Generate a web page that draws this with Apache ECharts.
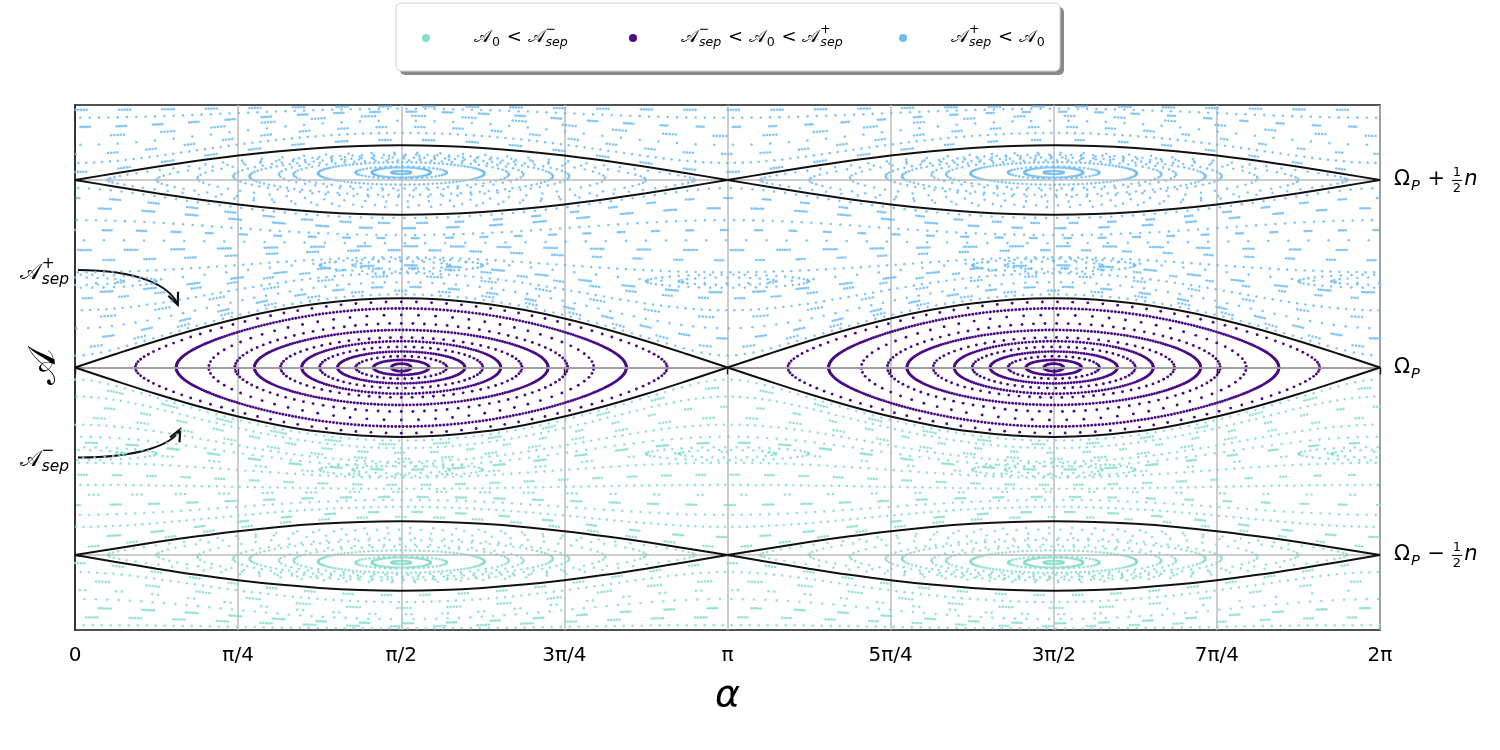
<!DOCTYPE html>
<html>

<head>
    <meta charset="UTF-8" />
    <title>Resonance phase space</title>
    <script src="https://cdn.jsdelivr.net/npm/echarts@6/dist/echarts.min.js"></script>
    <style>
        html, body { margin: 0; padding: 0; background: #fff; }
        #chart { width: 1500px; height: 750px; }
    </style>
</head>

<body>
    <div id="chart"></div>

    <script type="text/javascript">
        // x axis runs in units of pi/4 (0 .. 8 = 2pi), y in units of n/2 around Omega_P
        let alphaTickLabels = ['0', 'π/4', 'π/2', '3π/4', 'π', '5π/4', '3π/2', '7π/4', '2π'];
        let levelValues = [-1, 0, 1];
        let levelSigns = ['−', '', '+'];

        // separatrix shape over half a period (alpha = 0 .. pi) and its half widths
        let sepProfile = [0, 0.195, 0.383, 0.556, 0.707, 0.831, 0.924, 0.981, 1, 0.981, 0.924, 0.831, 0.707, 0.556, 0.383, 0.195, 0];
        let sepCentres = [-1, 0, 1];
        let sepAbove = [0.18, 0.37, 0.185];
        let sepBelow = [0.19, 0.37, 0.185];

        // main island (purple): ring half width (x), half height (y), number of dots
        let midRingW = [0.06, 0.17, 0.28, 0.39, 0.50, 0.61, 0.74, 0.90, 1.02, 1.18, 1.38, 1.63];
        let midRingH = [0.02, 0.04, 0.06, 0.085, 0.11, 0.14, 0.16, 0.20, 0.235, 0.28, 0.315, 0.35];
        let midRingN = [40, 80, 40, 130, 60, 170, 70, 260, 90, 70, 380, 110];

        // islands at Omega_P +- n/2 (blue above, green below, mirrored)
        let sideRingW = [0.06, 0.18, 0.28, 0.51, 0.66, 0.75, 0.93, 1.03, 1.25, 1.5, 1.8];
        let sideRingH = [0.008, 0.027, 0.032, 0.06, 0.075, 0.085, 0.10, 0.11, 0.125, 0.135, 0.145];
        let sideRingC = [0.04, 0.04, 0.04, 0.035, 0.03, 0.03, 0.02, 0.02, 0.01, 0, 0];
        let sideRingN = [30, 70, 50, 110, 60, 50, 90, 70, 60, 70, 80];

        // circulating orbits between the islands: value at alpha = 0, at alpha = pi/2,
        // number of dots and number of dashes (0 = evenly spread)
        let rowB = [0.064, 0.107, 0.155, 0.209, 0.267, 0.305, 0.369, 0.401, 0.449, 0.508, 0.572, 0.626, 0.679, 0.733, 0.786, 0.850, 0.904, 0.957];
        let rowM = [0.39, 0.41, 0.43, 0.455, 0.487, 0.503, 0.529, 0.545, 0.572, 0.588, 0.626, 0.647, 0.663, 0.690, 0.706, 0.743, 0.770, 0.797];
        let rowN = [150, 120, 170, 110, 110, 160, 130, 180, 60, 150, 140, 165, 65, 155, 135, 170, 145, 120];
        let rowQ = [0, 30, 34, 0, 24, 0, 36, 30, 0, 0, 32, 28, 0, 38, 0, 30, 34, 0];

        // circulating orbits outside the side islands
        let topB = [1.043, 1.091, 1.139, 1.187, 1.235, 1.283, 1.332, 1.374];
        let topM = [1.214, 1.251, 1.283, 1.316, 1.342, 1.364, 1.380, 1.392];
        let topN = [140, 165, 130, 70, 120, 160, 140, 150];
        let topQ = [30, 0, 34, 0, 26, 36, 0, 30];

        // small secondary island chain
        let chainX = [0, 2, 4, 6, 8];
        let chainY = [0.46, 0.545, 0.46, 0.545, 0.46];
        let chainW = [0.5, 0.3];
        let chainH = [0.035, 0.02];
        let chainN = [44, 26];

        const GREEN = '#85ddcb';
        const PURPLE = '#4b0a86';
        const BLUE = '#6cbcf7';
        const FONT = '"DejaVu Sans"';
        const Q = Math.PI / 4;

        // libration orbit of a pendulum, turning points at cx +- halfW
        function ringPoints(cx, cy, halfW, halfH, n, phase, out) {
            let d = halfW * Q;
            let c2 = Math.cos(d) * Math.cos(d);
            let s = Math.sin(d);
            for (let k = 0; k < n; k++) {
                let th = 2 * Math.PI * (k + phase) / n;
                let a = Math.PI / 2 + d * Math.cos(th);
                let v = Math.sqrt(Math.max(0, Math.sin(a) * Math.sin(a) - c2)) / s;
                out.push([cx + halfW * Math.cos(th), cy + (Math.sin(th) >= 0 ? halfH : -halfH) * v]);
            }
        }

        // circulating orbit bent around the nearest resonance, dots either even or in q dashes
        function rowPoints(b, m, n, q, phase, sign, out) {
            let ref = Math.round(b);
            let b0 = b - ref, m0 = m - ref;
            let dir = (b0 + m0) >= 0 ? 1 : -1;
            let per = q ? Math.ceil(n / q) : 1;
            for (let k = 0; k < n; k++) {
                let x = q
                    ? 8 * ((k % q) + phase + 0.32 * Math.floor(k / q) / per) / q
                    : 8 * (k + phase) / n;
                x = x % 8;
                let s = Math.sin(x * Q);
                let y = ref + dir * Math.sqrt(b0 * b0 + (m0 * m0 - b0 * b0) * s * s);
                out.push([x, sign * y]);
            }
        }

        let purpleData = [];
        let blueData = [];
        let greenData = [];

        midRingW.forEach((w, i) => {
            ringPoints(2, 0, w, midRingH[i], midRingN[i], 0.5, purpleData);
            ringPoints(6, 0, w, midRingH[i], midRingN[i], 0.25, purpleData);
        });
        sideRingW.forEach((w, i) => {
            [2, 6].forEach((cx, j) => {
                ringPoints(cx, 1 + sideRingC[i], w, sideRingH[i], sideRingN[i], 0.3 + j * 0.4, blueData);
                ringPoints(cx, -1 - sideRingC[i], w, sideRingH[i], sideRingN[i], 0.6 - j * 0.4, greenData);
            });
        });
        rowB.forEach((b, i) => {
            rowPoints(b, rowM[i], rowN[i], rowQ[i], (i * 0.37) % 1, 1, blueData);
            rowPoints(b, rowM[i], rowN[i] + 7, rowQ[(i + 3) % rowQ.length], (i * 0.61) % 1, -1, greenData);
        });
        topB.forEach((b, i) => {
            rowPoints(b, topM[i], topN[i], topQ[i], (i * 0.43) % 1, 1, blueData);
            rowPoints(b, topM[i], topN[i] - 5, topQ[(i + 2) % topQ.length], (i * 0.71) % 1, -1, greenData);
        });
        chainX.forEach((cx, i) => {
            chainW.forEach((w, j) => {
                ringPoints(cx, chainY[i], w, chainH[j], chainN[j], 0.5, blueData);
                ringPoints(cx, -chainY[i], w, chainH[j], chainN[j], 0.2, greenData);
            });
        });

        // separatrix curves
        let sepSeries = [];
        sepCentres.forEach((c, i) => {
            [0, 1].forEach(h => {
                [sepAbove[i], -sepBelow[i]].forEach(w => {
                    sepSeries.push({
                        type: 'line',
                        data: sepProfile.map((v, k) => [h * 4 + k * 0.25, c + w * v]),
                        smooth: 0.35,
                        showSymbol: false,
                        silent: true,
                        z: 5,
                        lineStyle: { color: '#111', width: 2 }
                    });
                });
            });
        });

        let chart = echarts.init(document.getElementById('chart'));

        let scatter = (name, data, color, size, opacity) => ({
            name: name,
            type: 'scatter',
            data: data,
            symbolSize: size,
            progressive: 0,
            large: false,
            silent: true,
            z: 3,
            itemStyle: { color: color, opacity: opacity }
        });

        chart.setOption({
            animation: false,
            backgroundColor: '#fff',
            grid: {
                left: 75, right: 120, top: 105, bottom: 120,
                show: true, borderColor: '#1a1a1a', borderWidth: 1.6
            },
            xAxis: {
                type: 'value', min: 0, max: 8, interval: 1,
                axisLine: { show: true, lineStyle: { color: '#1a1a1a', width: 1.6 } },
                axisTick: { show: true, length: 7, lineStyle: { color: '#1a1a1a', width: 1.4 } },
                axisLabel: {
                    formatter: v => alphaTickLabels[Math.round(v)],
                    fontSize: 20, color: '#000', margin: 16, fontFamily: FONT
                },
                splitLine: { show: true, lineStyle: { color: '#bdbdbd', width: 1.5 } },
                name: 'α', nameLocation: 'middle', nameGap: 47,
                nameTextStyle: { fontSize: 38, fontStyle: 'italic', fontFamily: FONT, color: '#000' }
            },
            yAxis: {
                type: 'value', min: -1.4, max: 1.4, position: 'right',
                axisLine: { show: true, lineStyle: { color: '#1a1a1a', width: 1.6 } },
                axisTick: { show: true, customValues: levelValues, length: 7, lineStyle: { color: '#1a1a1a', width: 1.4 } },
                axisLabel: { show: false },
                splitLine: { show: false }
            },
            series: [
                scatter('green', greenData, GREEN, 2.6, 0.85),
                scatter('blue', blueData, BLUE, 2.6, 0.85),
                Object.assign(scatter('purple', purpleData, PURPLE, 2.9, 1), {
                    markLine: {
                        silent: true, symbol: 'none', label: { show: false },
                        lineStyle: { color: '#bdbdbd', width: 1.5, type: 'solid' },
                        data: levelValues.map(v => ({ yAxis: v }))
                    }
                })
            ].concat(sepSeries)
        });
    </script>

    <script type="text/javascript">
        // text with stacked sub/superscripts, laid out by hand
        let measureCtx = document.createElement('canvas').getContext('2d');
        let textW = (str, size, italic) => {
            measureCtx.font = (italic ? 'italic ' : '') + size + 'px ' + FONT;
            return measureCtx.measureText(str).width;
        };

        function mathText(x, y, parts, size, align) {
            let items = [];
            let cx = 0;
            let small = size * 0.7;
            parts.forEach(p => {
                if (p.t) {
                    items.push({ t: p.t, x: cx, y: 0, size: size, i: p.i });
                    cx += textW(p.t, size, p.i);
                }
                let sw = 0;
                if (p.sup) {
                    items.push({ t: p.sup, x: cx + 1, y: -0.42 * size, size: small });
                    sw = textW(p.sup, small);
                }
                if (p.sub) {
                    items.push({ t: p.sub, x: cx + 1, y: 0.3 * size, size: small, i: p.subI });
                    sw = Math.max(sw, textW(p.sub, small, p.subI));
                }
                if (sw) cx += sw + 2;
                if (p.frac) {
                    let fs = size * 0.62;
                    let fw = Math.max(textW(p.frac[0], fs), textW(p.frac[1], fs));
                    items.push({ t: p.frac[0], x: cx + 1, y: -0.36 * size, size: fs });
                    items.push({ t: p.frac[1], x: cx + 1, y: 0.42 * size, size: fs });
                    items.push({ bar: true, x: cx, w: fw + 2, y: 0.02 * size });
                    cx += fw + 4;
                }
            });
            let ox = align === 'right' ? x - cx : (align === 'center' ? x - cx / 2 : x);
            return items.map(it => it.bar ? {
                type: 'line', silent: true, z: 20,
                shape: { x1: ox + it.x, y1: y + it.y, x2: ox + it.x + it.w, y2: y + it.y },
                style: { stroke: '#000', lineWidth: 1 }
            } : {
                type: 'text', silent: true, z: 20,
                x: ox + it.x, y: y + it.y,
                style: {
                    text: it.t, fill: '#000',
                    font: (it.i ? 'italic ' : '') + it.size + 'px ' + FONT,
                    textAlign: 'left', textVerticalAlign: 'middle',
                    align: 'left', verticalAlign: 'middle'
                }
            });
        }

        let A = '𝒜';
        let Asep = s => ({ t: A, sup: s, sub: 'sep', subI: true });
        let A0 = { t: A, sub: '0' };
        let LT = { t: ' < ' };

        let elements = [];

        // right hand level labels
        levelValues.forEach((v, i) => {
            let p = chart.convertToPixel({ gridIndex: 0 }, [8, v]);
            let parts = [{ t: 'Ω', sub: 'P', subI: true }];
            if (levelSigns[i]) parts.push({ t: ' ' + levelSigns[i] + ' ' }, { frac: ['1', '2'] }, { t: 'n', i: true });
            elements = elements.concat(mathText(p[0] + 14, p[1], parts, 21, 'left'));
        });

        // separatrix annotations with arrows
        let arrow = (from, to) => {
            let a = chart.convertToPixel({ gridIndex: 0 }, from);
            let b = chart.convertToPixel({ gridIndex: 0 }, to);
            a[0] += 3;
            let c1 = [a[0] + (b[0] - a[0]) * 0.6, a[1]];
            let c2 = [b[0] - 8, b[1] - (b[1] - a[1]) * 0.55];
            let dx = b[0] - c2[0], dy = b[1] - c2[1];
            let len = Math.sqrt(dx * dx + dy * dy);
            dx /= len; dy /= len;
            let wing = (ang) => [b[0] - 13 * (dx * Math.cos(ang) - dy * Math.sin(ang)),
                                 b[1] - 13 * (dx * Math.sin(ang) + dy * Math.cos(ang))];
            return [{
                type: 'bezierCurve', silent: true, z: 20,
                shape: { x1: a[0], y1: a[1], cpx1: c1[0], cpy1: c1[1], cpx2: c2[0], cpy2: c2[1], x2: b[0], y2: b[1] },
                style: { stroke: '#111', lineWidth: 2, fill: null }
            }, {
                type: 'polyline', silent: true, z: 20,
                shape: { points: [wing(0.42), b, wing(-0.42)] },
                style: { stroke: '#111', lineWidth: 2.2, fill: null }
            }, a];
        };
        let up = arrow([0, 0.52], [0.63, 0.335]);
        let dn = arrow([0, -0.48], [0.645, -0.33]);
        elements.push(up[0], up[1], dn[0], dn[1]);
        elements = elements.concat(mathText(up[2][0] - 8, up[2][1] + 3, [Asep('+')], 22, 'right'));
        elements = elements.concat(mathText(dn[2][0] - 8, dn[2][1] + 3, [Asep('−')], 22, 'right'));

        // y axis name
        elements.push({
            type: 'text', silent: true, z: 20, x: 45, y: 367, rotation: Math.PI / 2,
            style: {
                text: A, fill: '#000', font: '38px ' + FONT,
                textAlign: 'center', textVerticalAlign: 'middle', align: 'center', verticalAlign: 'middle'
            }
        });

        // legend box
        elements.push({
            type: 'rect', silent: true, z: 18,
            shape: { x: 400, y: 7, width: 664, height: 68, r: 5 },
            style: { fill: '#8a8a8a' }
        }, {
            type: 'rect', silent: true, z: 19,
            shape: { x: 396, y: 3, width: 664, height: 68, r: 5 },
            style: { fill: '#fff', stroke: '#cfcfcf', lineWidth: 1 }
        });
        let legendItems = [
            { color: GREEN, x: 426, parts: [A0, LT, Asep('−')] },
            { color: PURPLE, x: 633, parts: [Asep('−'), LT, A0, LT, Asep('+')] },
            { color: BLUE, x: 903, parts: [Asep('+'), LT, A0] }
        ];
        legendItems.forEach(item => {
            elements.push({
                type: 'circle', silent: true, z: 20,
                shape: { cx: item.x, cy: 38, r: 4 },
                style: { fill: item.color }
            });
            elements = elements.concat(mathText(item.x + 48, 37, item.parts, 18, 'left'));
        });

        chart.setOption({ graphic: { elements: elements } });
    </script>
</body>

</html>
